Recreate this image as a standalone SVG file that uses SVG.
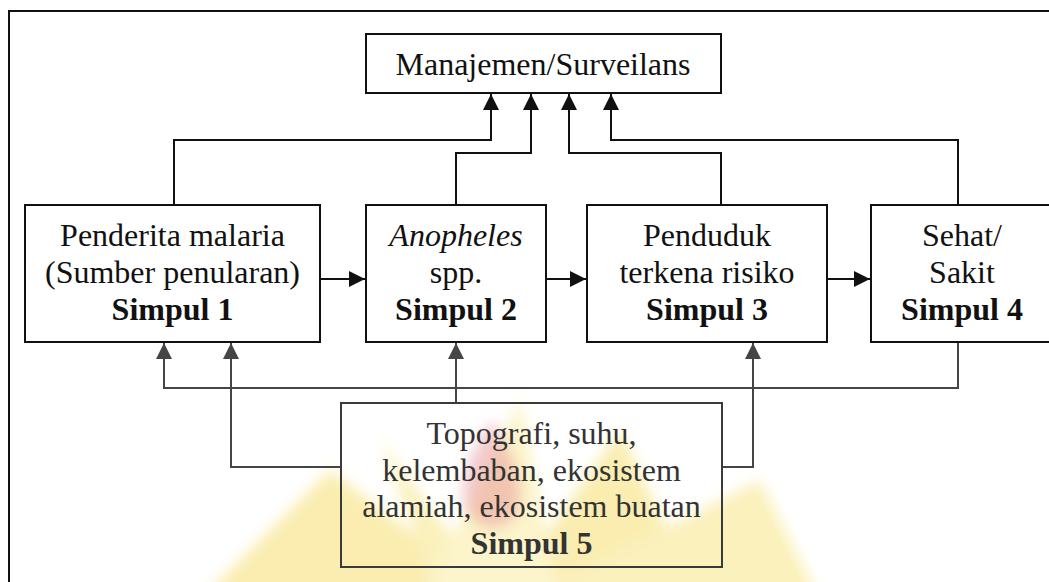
<svg xmlns="http://www.w3.org/2000/svg" width="1049" height="582" viewBox="0 0 1049 582">
  <defs>
    <style>
      .box { fill: none; stroke: #111; stroke-width: 2; }
      .t { font-size: 32px; fill: #111; text-anchor: middle; }
      .b { font-weight: bold; }
      .i { font-style: italic; }
      .c { fill: none; stroke: #111; stroke-width: 2; }
      .g { fill: none; stroke: #454545; stroke-width: 2; }
    </style>
    <marker id="ah" viewBox="0 0 16 16" markerWidth="16" markerHeight="16" refX="16" refY="8" orient="auto" markerUnits="userSpaceOnUse">
      <path d="M0,0 L16,8 L0,16 z" fill="#111"/>
    </marker>
    <marker id="ahg" viewBox="0 0 16 16" markerWidth="16" markerHeight="16" refX="16" refY="8" orient="auto" markerUnits="userSpaceOnUse">
      <path d="M0,0 L16,8 L0,16 z" fill="#454545"/>
    </marker>
    <filter id="blur" x="-20%" y="-20%" width="140%" height="140%">
      <feGaussianBlur stdDeviation="7"/>
    </filter>
  </defs>
  <rect width="1049" height="582" fill="#fff"/>

  <g id="watermark" filter="url(#blur)">
    <g opacity="0.4">
      <polygon points="500,600 200,600 330,470" fill="#f3d23a"/>
      <polygon points="500,600 380,440 440,600" fill="#f6dc5a"/>
      <polygon points="500,600 620,430 700,600" fill="#f3d23a"/>
      <polygon points="520,600 760,480 820,600" fill="#f6dc5a"/>
      <polygon points="420,600 520,400 560,600" fill="#f8e47a"/>
    </g>
    <path d="M492,420 C468,455 455,490 468,514 C478,532 506,532 516,514 C528,490 514,455 492,420 z" fill="#e58a92" opacity="0.45"/>
  </g>

  <rect x="9" y="11" width="1046" height="580" fill="none" stroke="#111" stroke-width="2"/>

  <g id="connectors">
    <path class="c" d="M174,205 V140 H491 V94" marker-end="url(#ah)"/>
    <path class="c" d="M456,205 V153 H531 V94" marker-end="url(#ah)"/>
    <path class="c" d="M721,205 V153 H569 V94" marker-end="url(#ah)"/>
    <path class="c" d="M958,205 V140 H611 V94" marker-end="url(#ah)"/>
    <path class="c" d="M321,279 H365" marker-end="url(#ah)"/>
    <path class="c" d="M546,279 H586" marker-end="url(#ah)"/>
    <path class="c" d="M827,279 H870" marker-end="url(#ah)"/>
    <path class="g" d="M958,342 V388 H164 V343" marker-end="url(#ahg)"/>
    <path class="g" d="M456,403 V343" marker-end="url(#ahg)"/>
    <path class="g" d="M341,467 H231 V343" marker-end="url(#ahg)"/>
    <path class="g" d="M722,467 H753 V343" marker-end="url(#ahg)"/>
  </g>

  <g font-family="Liberation Serif, Times New Roman, serif">
  <g id="manajemen">
    <rect class="box" x="366" y="34" width="355" height="59"/>
    <text class="t" x="543" y="75">Manajemen/Surveilans</text>
  </g>

  <g id="simpul1">
    <rect class="box" x="25" y="205" width="295" height="137"/>
    <text class="t" x="172.5" y="246">Penderita malaria</text>
    <text class="t" x="172.5" y="283">(Sumber penularan)</text>
    <text class="t b" x="172.5" y="320">Simpul 1</text>
  </g>

  <g id="simpul2">
    <rect class="box" x="366" y="205" width="180" height="137"/>
    <text class="t i" x="456" y="246">Anopheles</text>
    <text class="t" x="456" y="283">spp.</text>
    <text class="t b" x="456" y="320">Simpul 2</text>
  </g>

  <g id="simpul3">
    <rect class="box" x="587" y="205" width="240" height="137"/>
    <text class="t" x="707" y="246">Penduduk</text>
    <text class="t" x="707" y="283">terkena risiko</text>
    <text class="t b" x="707" y="320">Simpul 3</text>
  </g>

  <g id="simpul4">
    <rect class="box" x="871" y="205" width="184" height="137"/>
    <text class="t" x="962" y="246">Sehat/</text>
    <text class="t" x="962" y="283">Sakit</text>
    <text class="t b" x="962" y="320">Simpul 4</text>
  </g>

  <g id="simpul5">
    <rect x="341" y="403" width="381" height="164" fill="none" stroke="#3a3a3a" stroke-width="2"/>
    <text class="t" x="531.5" y="444" style="fill:#333">Topografi, suhu,</text>
    <text class="t" x="531.5" y="481" style="fill:#333">kelembaban, ekosistem</text>
    <text class="t" x="531.5" y="517" style="fill:#333">alamiah, ekosistem buatan</text>
    <text class="t b" x="531.5" y="554" style="fill:#333">Simpul 5</text>
  </g>
  </g>
</svg>
